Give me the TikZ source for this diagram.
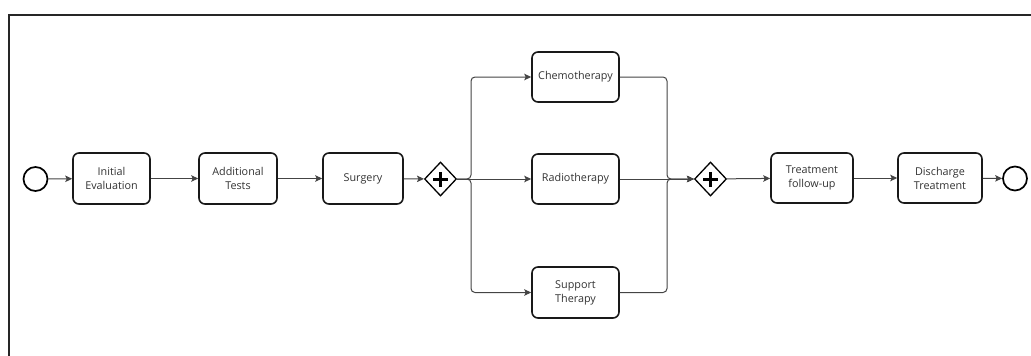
\documentclass[tikz,border=0pt]{standalone}
\usepackage{fontspec}
\setmainfont{Open Sans}
\usetikzlibrary{arrows.meta,shapes.geometric}
\definecolor{txt}{HTML}{333333}
\definecolor{flow}{HTML}{444444}
\tikzset{
  task/.style={draw=black!90, line width=1.6pt, rounded corners=6pt, fill=white,
    minimum height=51pt, align=center, font=\fontsize{10.8}{14}\selectfont,
    text=txt, inner sep=2pt},
  evt/.style={circle, draw=black, line width=1.7pt, minimum size=24pt, inner sep=0pt},
  gw/.style={diamond, draw=black, line width=1.3pt, minimum width=32pt,
    minimum height=34pt, inner sep=0pt, fill=white},
  flowline/.style={draw=flow, line width=1pt, rounded corners=4pt,
    -{Stealth[length=7pt,width=6.5pt,inset=1.5pt]}},
  pluss/.style={line width=3pt, black}
}
\begin{document}
\begin{tikzpicture}[x=1pt,y=-1pt]
\useasboundingbox (0,0) rectangle (1031,356);
% page frame (top and left edges)
\draw[line width=2pt, black!85] (9,356) -- (9,15) -- (1031,15);

% events
\node[evt] (start) at (35.5,179) {};
\node[evt] (end) at (1015,178.5) {};

% tasks
\node[task, minimum width=77pt] (ie) at (111.5,178.5) {Initial\\Evaluation};
\node[task, minimum width=78pt] (at) at (238,178.5) {Additional\\Tests};
\node[task, minimum width=80pt] (su) at (363,178.5) {Surgery};
\node[task, minimum width=87pt, minimum height=50pt] (ch) at (575.5,77) {Chemotherapy};
\node[task, minimum width=87pt, minimum height=50pt] (ra) at (575.5,179) {Radiotherapy};
\node[task, minimum width=87pt, minimum height=51pt] (st) at (575.5,292.5) {Support\\Therapy};
\node[task, minimum width=82pt, minimum height=50pt] (tf) at (812,178) {Treatment\\follow-up};
\node[task, minimum width=84pt, minimum height=50pt] (dt) at (940,178) {Discharge\\Treatment};

% parallel gateways
\node[gw] (g1) at (440.5,179) {};
\node[gw] (g2) at (710.5,179) {};
\foreach \g in {g1,g2}{
  \draw[pluss] ([xshift=-7.5pt]\g.center) -- ([xshift=7.5pt]\g.center);
  \draw[pluss] ([yshift=-7.5pt]\g.center) -- ([yshift=7.5pt]\g.center);
}

% split / join points
\coordinate (sp) at (471,179);
\coordinate (jn) at (667,179);

% sequence flows
\draw[flowline] (start) -- (ie);
\draw[flowline] (ie) -- (at);
\draw[flowline] (at) -- (su);
\draw[flowline] (su) -- (g1);
\draw[flowline] (g1.east) -- (ra.west);
\draw[flowline] (g1.east) -- (sp) |- (ch.west);
\draw[flowline] (g1.east) -- (sp) |- (st.west);
\draw[flowline] (ra.east) -- (g2.west);
\draw[flowline] (ch.east) -| (jn) -- (g2.west);
\draw[flowline] (st.east) -| (jn) -- (g2.west);
\draw[flowline] (g2) -- (tf);
\draw[flowline] (tf) -- (dt);
\draw[flowline] (dt) -- (end);
\end{tikzpicture}
\end{document}
